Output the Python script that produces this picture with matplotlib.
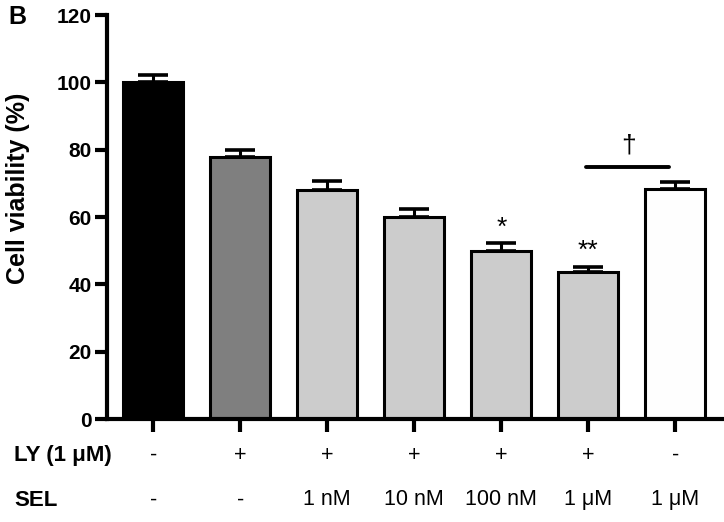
import numpy as np
import matplotlib.pyplot as plt
from matplotlib import transforms

plt.rcParams['font.family'] = ['Liberation Sans', 'DejaVu Sans']

# data
ly_row = ['-', '+', '+', '+', '+', '+', '-']
sel_row = ['-', '-', '1 nM', '10 nM', '100 nM', '1 \u03bcM', '1 \u03bcM']
viability = [100, 78, 68, 60, 50, 43.7, 68.3]
sem = [2.3, 2.0, 2.7, 2.5, 2.3, 1.6, 2.0]
colors = ['#000000', '#7f7f7f', '#cccccc', '#cccccc', '#cccccc', '#cccccc', '#fefefe']
stars = {4: '*', 5: '**'}

fig = plt.figure(figsize=(7.24, 5.22), dpi=100)
ax = fig.add_axes([0.148, 0.197, 0.852, 0.774])

x = np.arange(len(viability))
ax.bar(x, viability, width=0.69, color=colors, edgecolor='black', linewidth=2.2, zorder=2)
ax.errorbar(x, viability, yerr=[np.zeros(len(sem)), sem], fmt='none', ecolor='black',
            elinewidth=2.2, capsize=11, capthick=2.6, zorder=1)

for i, s in stars.items():
    ax.text(i, viability[i] + sem[i] + 1.0, s, ha='center', va='bottom', fontsize=19)

# dagger comparison line between 1 uM SEL + LY and 1 uM SEL alone
ax.plot([4.97, 5.93], [74.8, 74.8], color='black', lw=2.8, solid_capstyle='round')
ax.text(5.46, 81.4, '\u2020', ha='center', va='center', fontsize=19)

ax.set_xlim(-0.53, 6.56)
ax.set_ylim(0, 120)
ax.set_yticks(np.arange(0, 121, 20))
ax.set_xticks(x)
ax.set_xticklabels([])
ax.tick_params(axis='both', width=3, length=9, labelsize=15, pad=2)
for lab in ax.get_yticklabels():
    lab.set_fontweight('bold')
ax.spines['top'].set_visible(False)
ax.spines['right'].set_visible(False)
ax.spines['left'].set_linewidth(3)
ax.spines['bottom'].set_linewidth(3)
ax.spines['bottom'].set_clip_on(False)
fig.text(0.025, 0.64, 'Cell viability (%)', rotation=90, ha='center', va='center',
         fontsize=18, fontweight='bold')

tr = transforms.blended_transform_factory(ax.transData, ax.transAxes)
for i in x:
    ax.text(i, -0.089, ly_row[i], transform=tr, ha='center', va='center', fontsize=15.5)
    ax.text(i, -0.20, sel_row[i], transform=tr, ha='center', va='center', fontsize=15.5)
fig.text(0.02, 0.128, 'LY (1 \u03bcM)', ha='left', va='center', fontsize=16, fontweight='bold')
fig.text(0.02, 0.042, 'SEL', ha='left', va='center', fontsize=16, fontweight='bold')
fig.text(0.011, 0.99, 'B', ha='left', va='top', fontsize=18, fontweight='bold')

fig.savefig('out.png', dpi=100)
